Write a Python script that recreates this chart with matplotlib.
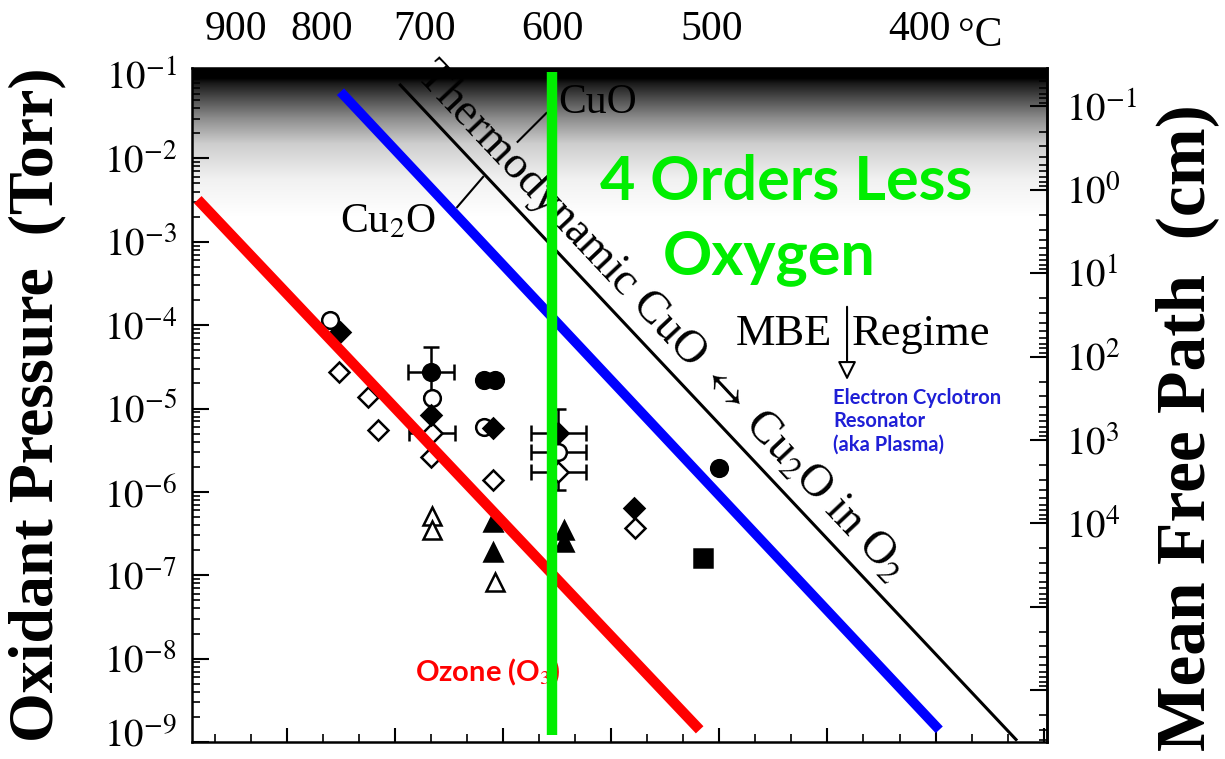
import numpy as np
import matplotlib.pyplot as plt
from matplotlib.ticker import FixedLocator, FuncFormatter, LogLocator, MultipleLocator, NullFormatter

plt.rcParams['font.family'] = ['Liberation Serif', 'DejaVu Serif']
plt.rcParams['mathtext.fontset'] = 'stix'

# growth data: temperature (C) and oxidant pressure (Torr)
open_circle_T = [791, 694, 651, 596]
open_circle_P = [1.15e-4, 1.35e-5, 6.0e-6, 3.0e-6]
filled_circle_T = [695, 651, 642, 496]
filled_circle_P = [2.75e-5, 2.2e-5, 2.2e-5, 1.95e-6]
filled_diamond_T = [780, 695, 644, 596, 546]
filled_diamond_P = [8.3e-5, 8.3e-6, 5.9e-6, 5.1e-6, 6.4e-7]
open_diamond_T = [782, 752, 743, 694, 695, 644, 596, 545]
open_diamond_P = [2.75e-5, 1.38e-5, 5.5e-6, 5.1e-6, 2.6e-6, 1.4e-6, 1.74e-6, 3.7e-7]
open_triangle_T = [694, 694, 642]
open_triangle_P = [5.2e-7, 3.5e-7, 8.3e-8]
filled_triangle_T = [644, 644, 592, 592]
filled_triangle_P = [4.3e-7, 1.9e-7, 3.5e-7, 2.5e-7]
filled_square_T = [505]
filled_square_P = [1.6e-7]

# error bars
err_T = [695, 694, 596, 596, 596]
err_P = [2.75e-5, 5.1e-6, 5.1e-6, 3.0e-6, 1.74e-6]
err_dT = [20, 20, 19, 19, 19]
err_Plo = [1.4e-5, 5.1e-6, 5.1e-6, 3.0e-6, 1.05e-6]
err_Phi = [5.5e-5, 5.1e-6, 1.0e-5, 3.0e-6, 1.74e-6]

# lines (end points)
red_T = [950, 507]
red_P = [3.2e-3, 1.4e-9]
blue_T = [780, 392]
blue_P = [6.3e-2, 1.4e-9]
thermo_T = [722, 362]
thermo_P = [7.6e-2, 1.07e-9]
green_T = 600
green_P = [0.109, 1.2e-9]

top_temps = [900, 800, 700, 600, 500, 400]
left_exps = [-1, -2, -3, -4, -5, -6, -7, -8, -9]
mfp_exps = [-1, 0, 1, 2, 3, 4]
mfp_const = 4.2e-3   # cm Torr


def inv(t):
    return 1000.0 / (np.asarray(t, dtype=float) + 273.15)


def left_label(v, p):
    e = round(np.log10(v))
    return '' if e == left_exps[-1] else r'$10^{%d}$' % e


fig = plt.figure(figsize=(12.25, 7.59), dpi=100)
W, H = 1225, 759
ax = fig.add_axes([192 / W, 1 - 742 / H, (1047 - 192) / W, (742 - 68) / H])
ax.set_yscale('log')
ax.set_xlim(0.8122, 1.6031)
ax.set_ylim(1e-9, 10 ** -0.916)

# dark noisy band at the top
band_px = [0, 10, 15, 30, 50, 75, 110, 150]
band_alpha = [1.0, 1.0, 0.9, 0.7, 0.45, 0.2, 0.06, 0.0]
rows = np.arange(150)
img = np.zeros((150, 1, 4))
img[:, 0, 3] = np.interp(rows, band_px, band_alpha)
ax.imshow(img, extent=(0, 1, 1 - 150 / 674, 1), transform=ax.transAxes,
          aspect='auto', zorder=0.5, interpolation='bilinear')

# markers
mk = dict(ls='none', mec='black', mew=1.8, zorder=3)
ax.plot(inv(open_circle_T), open_circle_P, 'o', ms=12, mfc='white', **mk)
ax.plot(inv(filled_circle_T), filled_circle_P, 'o', ms=12, mfc='black', **mk)
ax.plot(inv(open_diamond_T), open_diamond_P, 'D', ms=10, mfc='white', **mk)
ax.plot(inv(filled_diamond_T), filled_diamond_P, 'D', ms=10, mfc='black', **mk)
ax.plot(inv(open_triangle_T), open_triangle_P, '^', ms=13, mfc='white', **mk)
ax.plot(inv(filled_triangle_T), filled_triangle_P, '^', ms=13, mfc='black', **mk)
ax.plot(inv(filled_square_T), filled_square_P, 's', ms=13, mfc='black', **mk)

ex = inv(err_T)
xlo = ex - inv(np.add(err_T, err_dT))
xhi = inv(np.subtract(err_T, err_dT)) - ex
ylo = np.subtract(err_P, err_Plo)
yhi = np.subtract(err_Phi, err_P)
ax.errorbar(ex, err_P, xerr=[xlo, xhi], yerr=[ylo, yhi], fmt='none',
            ecolor='black', elinewidth=1.8, capsize=6, capthick=1.8, zorder=2.5)

# lines
ax.plot(inv(thermo_T), thermo_P, color='black', lw=2.2, zorder=4)
ax.plot(inv(red_T), red_P, color='#ff0000', lw=7.5, solid_capstyle='butt', zorder=4)
ax.plot(inv(blue_T), blue_P, color='#0000ff', lw=7, solid_capstyle='butt', zorder=4)
ax.plot(inv([green_T, green_T]), green_P, color='#00ee00', lw=7.5,
        solid_capstyle='butt', zorder=6)

# axes ticks
ax.yaxis.set_major_locator(FixedLocator([10.0 ** e for e in left_exps]))
ax.yaxis.set_major_formatter(FuncFormatter(left_label))
ax.yaxis.set_minor_locator(LogLocator(base=10, subs=np.arange(2, 10)))
ax.yaxis.set_minor_formatter(NullFormatter())
ax.xaxis.set_major_locator(MultipleLocator(0.1))
ax.xaxis.set_minor_locator(MultipleLocator(0.1 / 3))
ax.tick_params(axis='both', which='both', direction='in', right=False, top=False)
ax.tick_params(axis='y', which='major', length=12, width=1.5, labelsize=28, pad=11)
ax.tick_params(axis='y', which='minor', length=6, width=1.2)
ax.tick_params(axis='x', which='major', length=10, width=1.5, labelbottom=False)
ax.tick_params(axis='x', which='minor', length=6, width=1.2)
for s in ax.spines.values():
    s.set_linewidth(1.8)
# lowest label nudged up so it stays inside the picture
ax.annotate(r'$10^{%d}$' % left_exps[-1], xy=(0, 10.0 ** left_exps[-1]),
            xycoords=('axes fraction', 'data'), xytext=(-11, 4),
            textcoords='offset points', ha='right', va='center', fontsize=28)

top = ax.secondary_xaxis('top')
top.set_xticks(inv(top_temps), labels=[str(t) for t in top_temps])
top.tick_params(length=0, labelsize=30, pad=14)
fig.text(958 / W, 1 - 36 / H, '°C', fontsize=30, ha='left', va='center')

sec = ax.secondary_yaxis('right', functions=(lambda p: mfp_const / p,
                                             lambda l: mfp_const / l))
sec.yaxis.set_major_locator(FixedLocator([10.0 ** e for e in range(-1, 7)]))
sec.yaxis.set_major_formatter(FuncFormatter(
    lambda v, p: (r'$10^{%d}$' % round(np.log10(v))) if round(np.log10(v)) in mfp_exps else ''))
sec.yaxis.set_minor_locator(LogLocator(base=10, subs=np.arange(2, 10)))
sec.yaxis.set_minor_formatter(NullFormatter())
sec.tick_params(which='both', direction='in')
sec.tick_params(which='major', length=12, width=1.5, labelsize=28, pad=14)
sec.tick_params(which='minor', length=6, width=1.2)
sec.spines['right'].set_linewidth(1.8)

# axis titles
fig.text(37 / W, 1 - 405 / H, 'Oxidant Pressure  (Torr)', rotation=90, fontsize=46,
         fontweight='bold', ha='center', va='center')
fig.text(1187 / W, 1 - 428 / H, 'Mean Free Path  (cm)', rotation=90, fontsize=50,
         fontweight='bold', ha='center', va='center')

# phase labels
ax.text(inv(569), 4.6e-2, 'CuO', fontsize=30, ha='center', va='center', zorder=5)
ax.plot(inv([625, 604]), [1.58e-2, 3.5e-2], color='black', lw=1.5, zorder=5)
ax.text(inv(733), 1.73e-3, r'Cu$_2$O', fontsize=30, ha='center', va='center', zorder=5)
ax.plot(inv([672.5, 651.5]), [2.6e-3, 6.0e-3], color='black', lw=1.5, zorder=5)

# thermodynamic label along black line
fig.canvas.draw()
p0 = ax.transData.transform((inv(thermo_T[0]), thermo_P[0]))
p1 = ax.transData.transform((inv(thermo_T[1]), thermo_P[1]))
ang = np.degrees(np.arctan2(p1[1] - p0[1], p1[0] - p0[0]))
f = 0.39
mid_x = inv(thermo_T[0]) + f * (inv(thermo_T[1]) - inv(thermo_T[0]))
mid_y = 10 ** (np.log10(thermo_P[0]) + f * (np.log10(thermo_P[1]) - np.log10(thermo_P[0])))
nrm = np.radians(ang + 90)
off = 28 * 0.72
ax.annotate(r'Thermodynamic CuO $\leftrightarrow$ Cu$_2$O in O$_2$', xy=(mid_x, mid_y),
            xytext=(off * np.cos(nrm), off * np.sin(nrm)), textcoords='offset points',
            rotation=ang, rotation_mode='anchor', ha='center', va='center',
            fontsize=33, zorder=5)

# MBE regime
ax.annotate('', xy=(inv(432), 2.2e-5), xytext=(inv(432), 1.66e-4),
            arrowprops=dict(arrowstyle='-|>', fc='white', ec='black', lw=1.5,
                            mutation_scale=28, shrinkA=0, shrinkB=0), zorder=5)
ax.text(inv(439), 7.8e-5, 'MBE', fontsize=32, ha='right', va='center', zorder=5)
ax.text(inv(430), 7.8e-5, 'Regime', fontsize=32, ha='left', va='center', zorder=5)

sans = ['Lato', 'DejaVu Sans']
ax.text(inv(438.5), 1.75e-5, 'Electron Cyclotron\nResonator\n(aka Plasma)',
        color='#1f1fd6', fontsize=14.5, fontweight='bold', family=sans,
        ha='left', va='top', linespacing=1.2, zorder=5)
ax.text(inv(709), 6.8e-9, 'Ozone (O$_3$)', color='#ff0000', fontsize=21,
        fontweight='bold', family=sans, ha='left', va='center', zorder=5)
ax.text(inv(461), 5.2e-3, '4 Orders Less', color='#00ee00', fontsize=44,
        fontweight='bold', family=sans, ha='center', va='center', zorder=7)
ax.text(inv(470), 6.4e-4, 'Oxygen', color='#00ee00', fontsize=44,
        fontweight='bold', family=sans, ha='center', va='center', zorder=7)

fig.savefig('out.png', dpi=100)
